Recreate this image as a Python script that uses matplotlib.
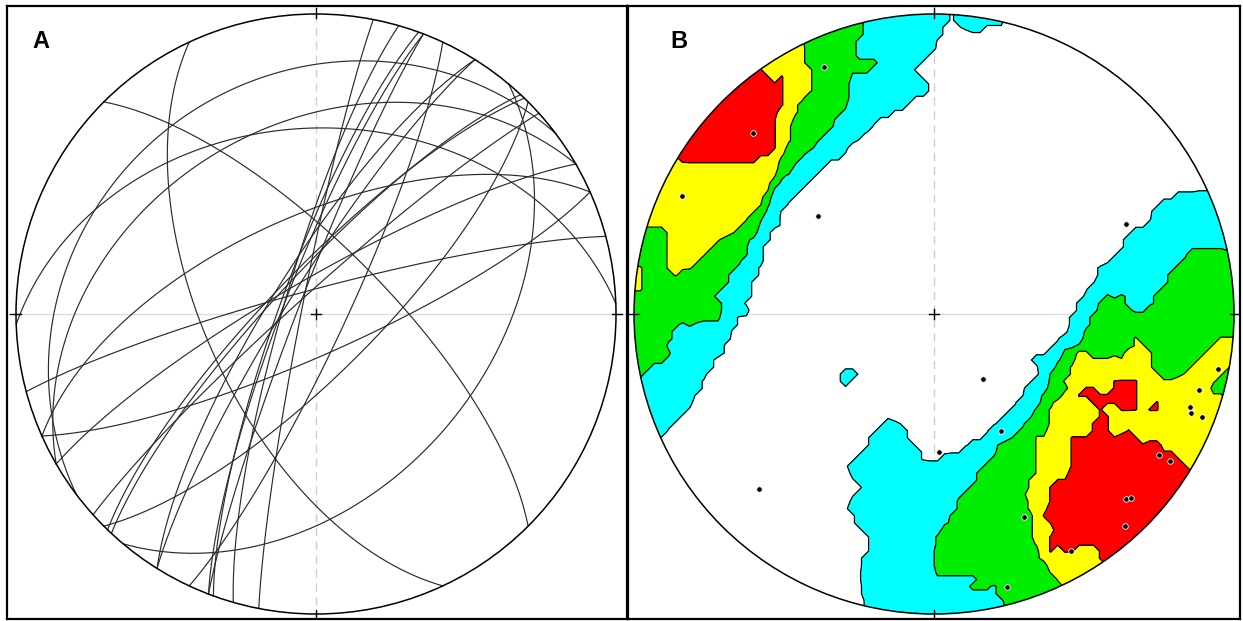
import numpy as np
import matplotlib.pyplot as plt
from matplotlib.patches import Circle

# poles to planes (lower hemisphere, degrees)
pole_trend = [336, 315, 295, 310, 65, 143, 150, 178, 101, 106, 110, 111, 111,
              122, 122, 134, 133, 138, 156, 150, 165, 225]
pole_plunge = [11, 16, 8, 48, 30, 68, 53, 52, 4, 9, 10, 9, 5,
               12.5, 8, 12, 11, 5.5, 27, 9.5, 6.6, 18.5]

# Kamb contours, in multiples of sigma
contour_sigma = [2, 4, 6, 7.45]
contour_colors = ['#00ffff', '#00ee00', '#ffff00', '#ff0000']
panel_labels = ['A', 'B']

trend = np.radians(pole_trend)
plunge = np.radians(pole_plunge)


def project(tr, pl):
    # Schmidt equal-area, primitive radius 1
    r = np.sqrt(2) * np.sin((np.pi / 2 - pl) / 2)
    return r * np.sin(tr), r * np.cos(tr)


def to_vec(tr, pl):
    return np.stack([np.cos(pl) * np.sin(tr), np.cos(pl) * np.cos(tr), np.sin(pl)], axis=-1)


def great_circle(dipdir, dip, n=200):
    s = dipdir - np.pi / 2
    a = np.linspace(0, np.pi, n)
    sv = np.array([np.sin(s), np.cos(s), 0.0])
    dv = np.array([np.cos(dip) * np.sin(dipdir), np.cos(dip) * np.cos(dipdir), np.sin(dip)])
    v = np.outer(np.cos(a), sv) + np.outer(np.sin(a), dv)
    pl = np.arcsin(np.clip(v[:, 2], -1, 1))
    tr = np.arctan2(v[:, 0], v[:, 1])
    return project(tr, pl)


def frame(ax):
    ax.axhline(0, color='#dcdcdc', lw=1.0, zorder=0)
    ax.axvline(0, color='#cfcfcf', lw=1.0, ls=(0, (6, 4)), zorder=0)
    ax.add_patch(Circle((0, 0), 1, fill=False, ec='black', lw=1.1, zorder=5))
    for ang in np.radians([0, 90, 180, 270]):
        ax.plot([0.985 * np.sin(ang), 1.02 * np.sin(ang)],
                [0.985 * np.cos(ang), 1.02 * np.cos(ang)], color='black', lw=1.0, zorder=5)
    ax.plot([-0.018, 0.018], [0, 0], color='black', lw=1.0, zorder=5)
    ax.plot([0, 0], [-0.018, 0.018], color='black', lw=1.0, zorder=5)
    ax.set_xticks([])
    ax.set_yticks([])
    for sp in ax.spines.values():
        sp.set_linewidth(1.6)


W, H = 1243, 621
R = 300.0
fig = plt.figure(figsize=(W / 100, H / 100), dpi=100)

boxes = [(7, 627, 6, 619, 316, 314), (628, 1240, 6, 619, 934, 314)]
axes = []
for (x0, x1, y0, y1, cx, cy) in boxes:
    ax = fig.add_axes([x0 / W, (H - y1) / H, (x1 - x0) / W, (y1 - y0) / H])
    ax.set_xlim((x0 - cx) / R, (x1 - cx) / R)
    ax.set_ylim((cy - y1) / R, (cy - y0) / R)
    axes.append(ax)

axA, axB = axes

# panel A: great circles of the planes
for tr, pl in zip(trend, plunge):
    gx, gy = great_circle(tr + np.pi, np.pi / 2 - pl)
    axA.plot(gx, gy, color='#2b2b2b', lw=0.85, zorder=3)
frame(axA)

# panel B: Kamb counts of poles (counting cone for 3 sigma)
n = len(pole_trend)
cos_cone = n / (n + 9.0)
sigma_units = np.sqrt(n * cos_cone * (1 - cos_cone))

g = np.linspace(-1.05, 1.05, 90)
gx, gy = np.meshgrid(g, g)
gr = np.clip(np.hypot(gx, gy), 0, 1)
gpl = np.pi / 2 - 2 * np.arcsin(gr / np.sqrt(2))
gtr = np.arctan2(gx, gy)
gv = to_vec(gtr, gpl)
pv = to_vec(trend, plunge)
counts = (np.abs(gv @ pv.T) >= cos_cone).sum(axis=-1)
dens = counts / sigma_units

clip = Circle((0, 0), 1, transform=axB.transData)
cf = axB.contourf(gx, gy, dens, levels=contour_sigma + [99], colors=contour_colors, zorder=1)
cl = axB.contour(gx, gy, dens, levels=contour_sigma, colors='black', linewidths=0.9, zorder=2)
cf.set_clip_path(clip)
cl.set_clip_path(clip)

px, py = project(trend, plunge)
axB.plot(px, py, 'o', color='black', ms=4, mec='white', mew=0.6, zorder=6)
frame(axB)

for ax, lab, lx in zip(axes, panel_labels, [32, 670]):
    cx = 316 if lab == 'A' else 934
    ax.text((lx - cx) / R, (314 - 30) / R, lab, fontsize=17, fontweight='bold',
            family='Liberation Sans', ha='left', va='top', zorder=7)

fig.savefig('out.png', dpi=100)
